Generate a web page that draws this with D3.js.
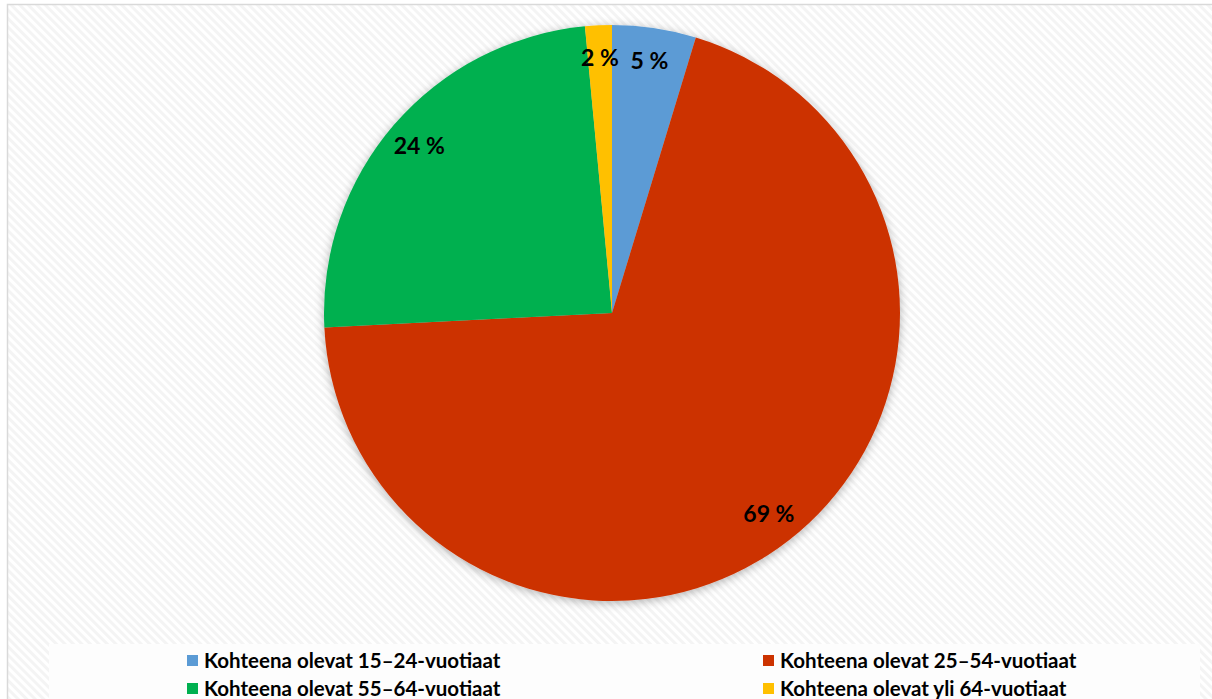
<!DOCTYPE html>
<html>
<head>
<meta charset="utf-8">
<script src="https://cdn.jsdelivr.net/npm/d3@7"></script>
<style>
  html, body { margin: 0; padding: 0; background: #fff; }
  svg { display: block; }
</style>
</head>
<body>
<svg id="chart" width="1212" height="699"></svg>
<script>
// age groups and their shares (percent)
var categories = ["Kohteena olevat 15–24-vuotiaat", "Kohteena olevat 25–54-vuotiaat",
                  "Kohteena olevat 55–64-vuotiaat", "Kohteena olevat yli 64-vuotiaat"];
var values = [4.7, 69.5, 24.3, 1.5];
var labels = ["5 %", "69 %", "24 %", "2 %"];
var colors = ["#5b9bd5", "#cc3300", "#00b050", "#ffc000"];

var W = 1212, H = 699;
var cx = 612, cy = 313, r = 288;

var svg = d3.select("#chart");
var defs = svg.append("defs");

// faint diagonal stripes in the background
var pat = defs.append("pattern")
    .attr("id", "stripes")
    .attr("patternUnits", "userSpaceOnUse")
    .attr("width", 6).attr("height", 6)
    .attr("patternTransform", "rotate(45)");
pat.append("rect").attr("width", 6).attr("height", 6).attr("fill", "#ffffff");
pat.append("rect").attr("width", 6).attr("height", 3).attr("fill", "#f4f4f4");

// soft shadow under the pie
var f = defs.append("filter").attr("id", "shadow")
    .attr("x", "-10%").attr("y", "-10%").attr("width", "120%").attr("height", "120%");
f.append("feDropShadow").attr("dx", 0).attr("dy", 2).attr("stdDeviation", 5)
    .attr("flood-color", "#000").attr("flood-opacity", 0.3);

// chart area
svg.append("rect").attr("x", 7.5).attr("y", 4.5).attr("width", W).attr("height", H)
    .attr("fill", "url(#stripes)").attr("stroke", "#d9d9d9").attr("stroke-width", 1.5);

// legend box
svg.append("rect").attr("x", 49).attr("y", 644).attr("width", 1151).attr("height", 60)
    .attr("fill", "#fdfdfd");

var pie = d3.pie().sort(null).value(function(d) { return d; });
var arc = d3.arc().innerRadius(0).outerRadius(r);
var labelArc = d3.arc().innerRadius(r * 0.885).outerRadius(r * 0.885);

var g = svg.append("g").attr("transform", "translate(" + cx + "," + cy + ")");

var arcs = pie(values);

g.append("g").attr("filter", "url(#shadow)")
  .selectAll("path")
  .data(arcs)
  .enter()
  .append("path")
    .attr("d", arc)
    .attr("fill", function(d, i) { return colors[i]; });

g.selectAll("text.lbl")
  .data(arcs)
  .enter()
  .append("text")
    .attr("class", "lbl")
    .attr("transform", function(d) { return "translate(" + labelArc.centroid(d) + ")"; })
    .attr("text-anchor", "middle")
    .attr("dy", "0.35em")
    .attr("font-family", "Lato, 'Open Sans', sans-serif")
    .attr("font-weight", "bold")
    .attr("font-size", 23)
    .attr("fill", "#000")
    .text(function(d, i) { return labels[i]; });

// legend, two columns
var legX = [187, 763], legY = [661, 689];
var leg = svg.selectAll("g.leg")
  .data(categories)
  .enter()
  .append("g")
    .attr("class", "leg")
    .attr("transform", function(d, i) {
      return "translate(" + legX[i % 2] + "," + legY[Math.floor(i / 2)] + ")";
    });

leg.append("rect")
    .attr("x", 0).attr("y", -6).attr("width", 11).attr("height", 11)
    .attr("fill", function(d, i) { return colors[i]; });

leg.append("text")
    .attr("x", 17)
    .attr("dy", "0.35em")
    .attr("font-family", "Lato, 'Open Sans', sans-serif")
    .attr("font-weight", "bold")
    .attr("font-size", 20.5)
    .attr("fill", "#000")
    .text(function(d) { return d; });
</script>
</body>
</html>
